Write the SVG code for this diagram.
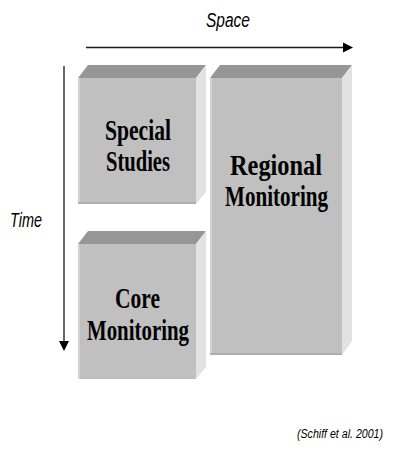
<svg xmlns="http://www.w3.org/2000/svg" width="400" height="456" viewBox="0 0 400 456">
<defs>
<style>
.front{fill:#c0c0c0}
.top{fill:#969696}
.side{fill:#e2e2e2}
.hl{fill:#d2d2d2}
.sh{fill:#aeaeae}
.lbl{font-family:"Liberation Serif","Times New Roman",serif;font-weight:bold;font-size:29px;fill:#000;text-anchor:middle}
.ax{font-family:"Liberation Sans",Arial,sans-serif;font-style:italic;font-size:20px;fill:#000}
.cite{font-family:"Liberation Sans",Arial,sans-serif;font-style:italic;font-size:12px;fill:#000}
.arrow{stroke:#1a1a1a;stroke-width:1.3;fill:none}
</style>
<marker id="ah" viewBox="0 0 10 10" refX="0" refY="5" markerWidth="10" markerHeight="11" markerUnits="userSpaceOnUse" orient="auto">
<path d="M0,0 L10,5 L0,10 Z" fill="#000"/>
</marker>
</defs>
<rect width="400" height="456" fill="#fff"/>

<g id="connectors">
<line class="arrow" x1="86" y1="47.5" x2="343" y2="47.5" marker-end="url(#ah)"/>
<line class="arrow" x1="64" y1="66" x2="64" y2="341" marker-end="url(#ah)"/>
</g>

<g id="space-label">
<text class="ax" x="206" y="27" textLength="44" lengthAdjust="spacingAndGlyphs">Space</text>
</g>
<g id="time-label">
<text class="ax" x="10" y="227" textLength="32" lengthAdjust="spacingAndGlyphs">Time</text>
</g>

<g id="special-studies">
<polygon class="top" points="78,78 88,65 206,65 196,78"/>
<polygon class="side" points="196,78 206,65 206,192 196,204"/>
<rect class="front" x="78" y="78" width="118" height="126"/>
<rect class="hl" x="78" y="78" width="2" height="126"/>
<rect class="sh" x="78" y="202" width="118" height="2"/>
<text class="lbl" x="138" y="140" textLength="66" lengthAdjust="spacingAndGlyphs">Special</text>
<text class="lbl" x="138" y="171" textLength="64" lengthAdjust="spacingAndGlyphs">Studies</text>
</g>

<g id="regional-monitoring">
<polygon class="top" points="210,78 220,65 352,65 342,78"/>
<polygon class="side" points="342,78 352,65 352,341 342,355"/>
<rect class="front" x="210" y="78" width="132" height="277"/>
<rect class="hl" x="210" y="78" width="2" height="277"/>
<rect class="sh" x="210" y="353" width="132" height="2"/>
<text class="lbl" x="276" y="175" textLength="92" lengthAdjust="spacingAndGlyphs">Regional</text>
<text class="lbl" x="276.5" y="206" textLength="103" lengthAdjust="spacingAndGlyphs">Monitoring</text>
</g>

<g id="core-monitoring">
<polygon class="top" points="78,244 88,231 206,231 196,244"/>
<polygon class="side" points="196,244 206,231 206,367 196,379"/>
<rect class="front" x="78" y="244" width="118" height="135"/>
<rect class="hl" x="78" y="244" width="2" height="135"/>
<text class="lbl" x="137.5" y="308" textLength="45" lengthAdjust="spacingAndGlyphs">Core</text>
<text class="lbl" x="138" y="340" textLength="102" lengthAdjust="spacingAndGlyphs">Monitoring</text>
</g>

<g id="citation">
<text class="cite" x="297" y="438" textLength="86" lengthAdjust="spacingAndGlyphs">(Schiff et al. 2001)</text>
</g>
</svg>
